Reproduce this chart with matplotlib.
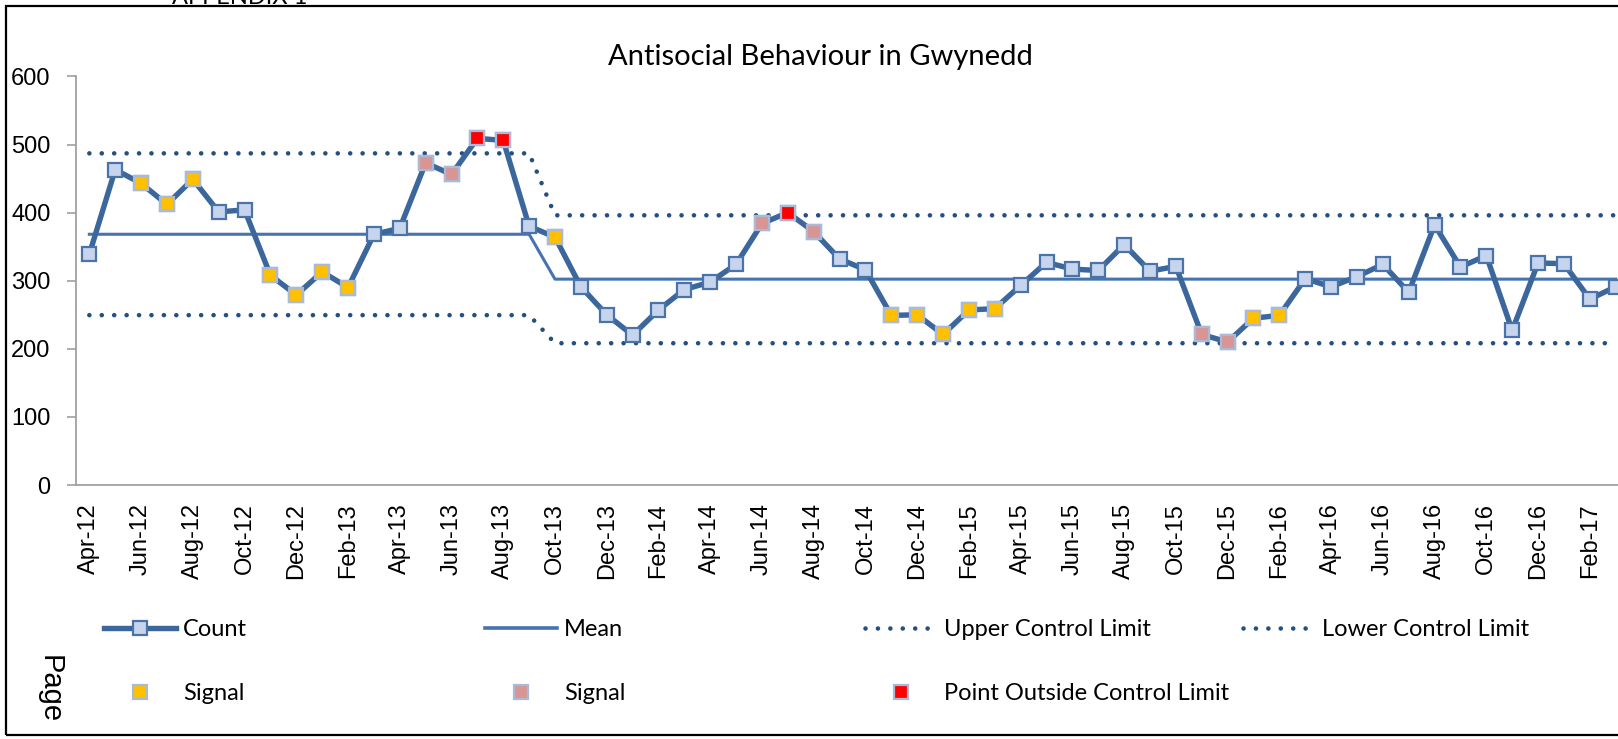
import numpy as np
import pandas as pd
import matplotlib
matplotlib.use("Agg")
import matplotlib.pyplot as plt
from matplotlib.lines import Line2D
from matplotlib.patches import Rectangle

# ---------------- data ----------------
months = list(pd.date_range("2012-04-01", periods=60, freq="MS").strftime("%b-%y"))
count = [339, 463, 443, 412, 449, 401, 404, 308, 279, 313, 290, 368,
         377, 473, 456, 509, 506, 380, 364, 291, 250, 220, 257, 287,
         298, 324, 384, 400, 372, 332, 316, 249, 250, 221, 257, 259,
         293, 327, 317, 315, 353, 314, 321, 221, 210, 245, 249, 303,
         291, 306, 324, 283, 382, 320, 337, 227, 326, 325, 273, 291]
phase_start = ["Apr-12", "Oct-13"]
phase_mean = [368.2, 302.3]
phase_ucl = [487.0, 396.0]
phase_lcl = [249.4, 208.2]
signal_yellow = ["Jun-12", "Jul-12", "Aug-12", "Nov-12", "Dec-12", "Jan-13", "Feb-13",
                 "Oct-13", "Nov-14", "Dec-14", "Jan-15", "Feb-15", "Mar-15",
                 "Jan-16", "Feb-16"]
signal_pink = ["May-13", "Jun-13", "Jun-14", "Aug-14", "Nov-15", "Dec-15"]
outside_limit = ["Jul-13", "Aug-13", "Jul-14"]
tick_labels = months[::2]

# ---------------- derived series ----------------
x = np.arange(len(months))
starts = [months.index(m) for m in phase_start]
phase_idx = np.searchsorted(starts, x, side="right") - 1
mean_line = np.array(phase_mean)[phase_idx]
ucl_line = np.array(phase_ucl)[phase_idx]
lcl_line = np.array(phase_lcl)[phase_idx]
cnt = np.array(count, dtype=float)

def pick(lst):
    idx = [months.index(m) for m in lst]
    return np.array(idx), cnt[idx]

# ---------------- style ----------------
W, H = 1618, 739
fig = plt.figure(figsize=(W / 100, H / 100), dpi=100)
fig.patch.set_facecolor("white")

ax = fig.add_axes([76.4 / W, 1 - 485 / H, 60 * 25.87 / W, (485 - 76.4) / H])

line_col = "#3B679C"
mean_col = "#4674B0"
dot_col = "#254F80"
mk_face = "#C6D4EE"
mk_edge = "#4A74A8"
sig_edge = "#A9B9D6"

dot_lw = 3.3
dot_style = (0, (0.01, 2.7))

ax.plot(x, ucl_line, color=dot_col, lw=dot_lw, linestyle=dot_style,
        dash_capstyle="round", zorder=2)
ax.plot(x, lcl_line, color=dot_col, lw=dot_lw, linestyle=dot_style,
        dash_capstyle="round", zorder=2)
ax.plot(x, mean_line, color=mean_col, lw=2.2, zorder=3)
ax.plot(x, cnt, color=line_col, lw=3.9, marker="s", markersize=9.5,
        markerfacecolor=mk_face, markeredgecolor=mk_edge, markeredgewidth=1.6,
        zorder=4)
for lst, col in [(signal_yellow, "#FFC000"), (signal_pink, "#D99594"),
                 (outside_limit, "#FF0000")]:
    xi, yi = pick(lst)
    ax.plot(xi, yi, linestyle="none", marker="s", markersize=9.5,
            markerfacecolor=col, markeredgecolor=sig_edge, markeredgewidth=1.6,
            zorder=5)

ax.set_xlim(-0.5, len(months) - 0.5)
ax.set_ylim(0, 600)
ax.set_yticks(np.arange(0, 601, 100))
ax.set_xticks(x[::2])
ax.set_xticklabels(tick_labels, rotation=90)
for lab in ax.get_xticklabels() + ax.get_yticklabels():
    lab.set_fontfamily("Liberation Sans")
    lab.set_fontsize(17)
ax.tick_params(axis="y", length=6.5, width=1.2, color="#A0A0A0", pad=12)
ax.tick_params(axis="x", length=0, pad=13)
for s in ["top", "right"]:
    ax.spines[s].set_visible(False)
for s in ["left", "bottom"]:
    ax.spines[s].set_color("#A0A0A0")
    ax.spines[s].set_linewidth(1.3)
ax.set_facecolor("none")

# ---------------- title & texts ----------------
fig.text(820 / W, 1 - 57 / H, "Antisocial Behaviour in Gwynedd",
         ha="center", va="center", fontsize=21, family="Lato")
fig.text(240 / W, 1 - 4 / H, "APPENDIX 1", ha="center", va="baseline",
         fontsize=17, family="Lato")
fig.text(50 / W, 1 - 689 / H, "Page", rotation=270, ha="center", va="center",
         fontsize=21, family="Liberation Sans")

fig.add_artist(Rectangle((6 / W, 1 - 735 / H), 1.2, (735 - 6) / H,
                         transform=fig.transFigure, fill=False,
                         edgecolor="black", linewidth=1.6, clip_on=False))

# ---------------- legend (4 evenly spaced columns) ----------------
h_count = Line2D([], [], color=line_col, lw=3.9, marker="s", markersize=9.5,
                 markerfacecolor=mk_face, markeredgecolor=mk_edge, markeredgewidth=1.6)
h_mean = Line2D([], [], color=mean_col, lw=2.6)
h_ucl = Line2D([], [], color=dot_col, lw=dot_lw, linestyle=dot_style,
               dash_capstyle="round")
h_lcl = Line2D([], [], color=dot_col, lw=dot_lw, linestyle=dot_style,
               dash_capstyle="round")
h_y = Line2D([], [], linestyle="none", marker="s", markersize=9.5,
             markerfacecolor="#FFC000", markeredgecolor=sig_edge, markeredgewidth=1.6)
h_p = Line2D([], [], linestyle="none", marker="s", markersize=9.5,
             markerfacecolor="#D99594", markeredgecolor=sig_edge, markeredgewidth=1.6)
h_r = Line2D([], [], linestyle="none", marker="s", markersize=9.5,
             markerfacecolor="#FF0000", markeredgecolor=sig_edge, markeredgewidth=1.6)

columns = [
    ([h_count, h_y], ["Count", "Signal"], 104),
    ([h_mean, h_p], ["Mean", "Signal"], 485),
    ([h_ucl, h_r], ["Upper Control Limit", "Point Outside Control Limit"], 865),
    ([h_lcl], ["Lower Control Limit"], 1243),
]
for hs, ls, xpx in columns:
    fig.legend(hs, ls, loc="upper left",
               bbox_to_anchor=(xpx / W, 1 - 619 / H),
               frameon=False, borderpad=0, borderaxespad=0,
               handlelength=3.05, handletextpad=0.3, labelspacing=1.82,
               numpoints=1, prop=dict(family="Lato", size=17))

fig.savefig("out.png", dpi=100, facecolor="white")
